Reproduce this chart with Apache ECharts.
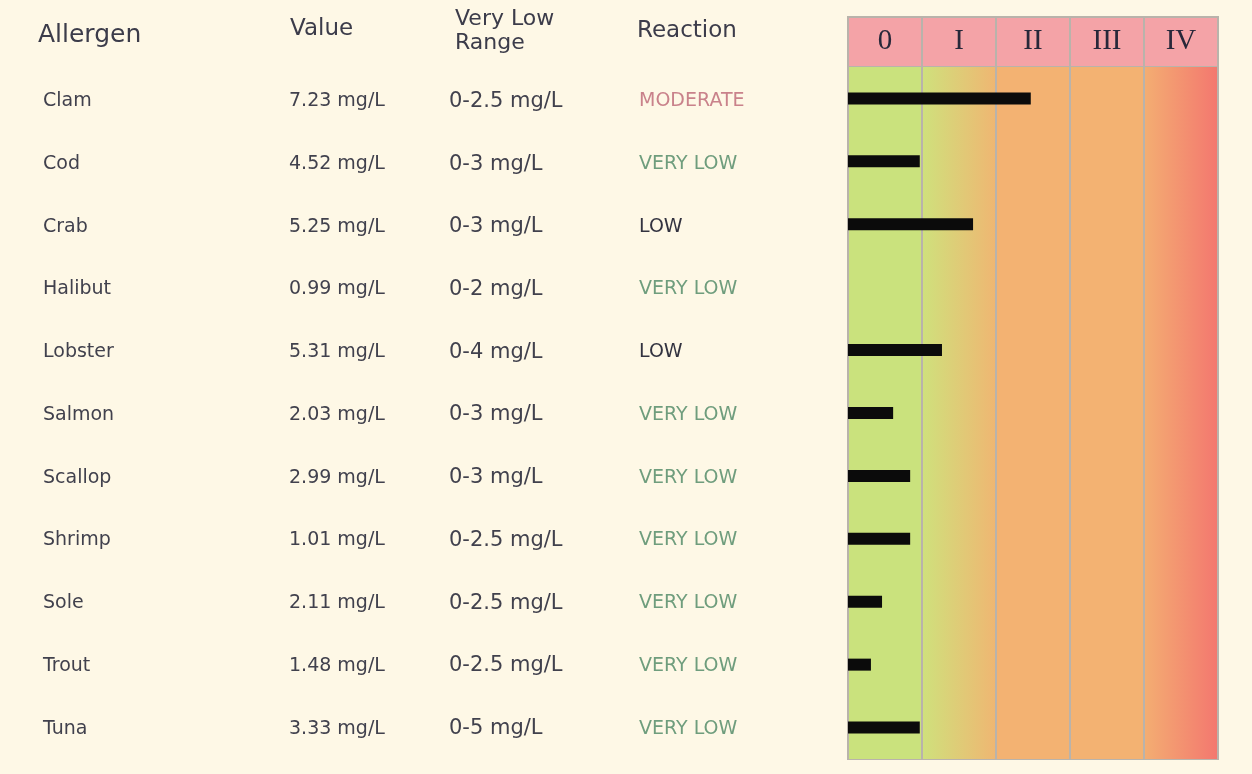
<!DOCTYPE html>
<html>
<head>
<meta charset="utf-8">
<script src="https://cdn.jsdelivr.net/npm/echarts@6/dist/echarts.min.js"></script>
<style>
  html, body { margin: 0; padding: 0; background: #fef8e6; }
</style>
</head>
<body>
<div id="chart1" style="width: 1252px;height: 774px"></div>
<script>
  // table data
  const allergens = ['Clam', 'Cod', 'Crab', 'Halibut', 'Lobster', 'Salmon', 'Scallop', 'Shrimp', 'Sole', 'Trout', 'Tuna']
  const values = ['7.23 mg/L', '4.52 mg/L', '5.25 mg/L', '0.99 mg/L', '5.31 mg/L', '2.03 mg/L', '2.99 mg/L', '1.01 mg/L', '2.11 mg/L', '1.48 mg/L', '3.33 mg/L']
  const ranges = ['0-2.5 mg/L', '0-3 mg/L', '0-3 mg/L', '0-2 mg/L', '0-4 mg/L', '0-3 mg/L', '0-3 mg/L', '0-2.5 mg/L', '0-2.5 mg/L', '0-2.5 mg/L', '0-5 mg/L']
  const reactions = ['MODERATE', 'VERY LOW', 'LOW', 'VERY LOW', 'LOW', 'VERY LOW', 'VERY LOW', 'VERY LOW', 'VERY LOW', 'VERY LOW', 'VERY LOW']
  // bar length in class units (0 .. 5)
  const classLevel = [2.47, 0.97, 1.69, 0, 1.27, 0.61, 0.84, 0.84, 0.46, 0.31, 0.97]
  const classes = ['0', 'I', 'II', 'III', 'IV']

  const font = 'DejaVu Sans'
  const textColor = '#41414d'
  const reactionKey = { 'MODERATE': 'mod', 'VERY LOW': 'vlow', 'LOW': 'low' }

  function grad(c1, c2) {
    return {
      type: 'linear', x: 0, y: 0, x2: 1, y2: 0,
      colorStops: [{ offset: 0, color: c1 }, { offset: 1, color: c2 }]
    }
  }

  function textAxis(data, offset, size, extra) {
    return Object.assign({
      type: 'category',
      gridIndex: 2,
      inverse: true,
      position: 'left',
      offset: offset,
      data: data,
      axisLine: { show: false },
      axisTick: { show: false },
      splitLine: { show: false },
      axisLabel: {
        align: 'left',
        margin: 0,
        fontFamily: font,
        fontSize: size,
        color: textColor,
        interval: 0
      }
    }, extra || {})
  }

  const myChart = echarts.init(document.getElementById('chart1'))
  const headStyle = { fontFamily: font, fontSize: 23, fontWeight: 'normal', color: '#3c3c4a' }
  var option = {
    backgroundColor: '#fef8e6',
    animation: false,
    title: [
      { text: 'Allergen', left: 38, top: 23, padding: 0, textStyle: Object.assign({}, headStyle, { fontSize: 25 }) },
      { text: 'Value', left: 290, top: 18, padding: 0, textStyle: headStyle },
      { text: 'Very Low\nRange', left: 455, top: 7, padding: 0, textStyle: Object.assign({}, headStyle, { fontSize: 22, lineHeight: 24 }) },
      { text: 'Reaction', left: 637, top: 20, padding: 0, textStyle: headStyle }
    ],
    grid: [{
      // class header
      left: 848, width: 370, top: 17, height: 50,
      show: true, backgroundColor: '#f4a3a7', borderColor: '#b9b3ab', borderWidth: 2
    }, {
      // bars
      left: 848, width: 370, top: 67, height: 692,
      show: true, backgroundColor: 'transparent', borderColor: '#b9b3ab', borderWidth: 2
    }, {
      // table text
      left: 848, width: 370, top: 70, height: 690
    }],
    xAxis: [{
      type: 'category',
      gridIndex: 0,
      position: 'top',
      data: classes,
      axisLine: { show: false },
      axisTick: { show: false },
      splitLine: { show: true, interval: 0, lineStyle: { color: '#b9b3ab', width: 2 } },
      axisLabel: {
        margin: -24,
        verticalAlign: 'middle',
        interval: 0,
        fontFamily: 'Liberation Serif',
        fontSize: 29,
        color: '#28283a'
      }
    }, {
      type: 'value',
      gridIndex: 1,
      min: 0,
      max: 5,
      interval: 1,
      axisLine: { show: false },
      axisTick: { show: false },
      axisLabel: { show: false },
      splitLine: { show: true, lineStyle: { color: '#b9b3ab', width: 2 } },
      splitArea: {
        show: true,
        areaStyle: {
          color: [
            '#cae27d',
            grad('#cfe17c', '#efb672'),
            '#f3b272',
            '#f3b272',
            grad('#f3ae72', '#f3776f')
          ]
        }
      }
    }, {
      type: 'value',
      gridIndex: 2,
      show: false
    }],
    yAxis: [{
      type: 'value',
      gridIndex: 0,
      show: false
    }, {
      type: 'category',
      gridIndex: 1,
      inverse: true,
      data: allergens,
      show: false
    },
      textAxis(allergens, 805, 19),
      textAxis(values, 559, 19),
      textAxis(ranges, 399, 21),
      textAxis(reactions, 209, 18, {
        axisLabel: {
          align: 'left',
          margin: 0,
          interval: 0,
          formatter: function (v) { return '{' + reactionKey[v] + '|' + v + '}' },
          rich: {
            mod: { fontFamily: font, fontSize: 19, color: '#c9828b' },
            vlow: { fontFamily: font, fontSize: 19, color: '#6f9d7d' },
            low: { fontFamily: font, fontSize: 19, color: '#333340' }
          }
        }
      })
    ],
    series: [{
      name: 'class',
      type: 'bar',
      xAxisIndex: 1,
      yAxisIndex: 1,
      barWidth: 12,
      itemStyle: { color: '#0b0b0b' },
      data: classLevel
    }]
  };
  myChart.setOption(option);
</script>
</body>
</html>
